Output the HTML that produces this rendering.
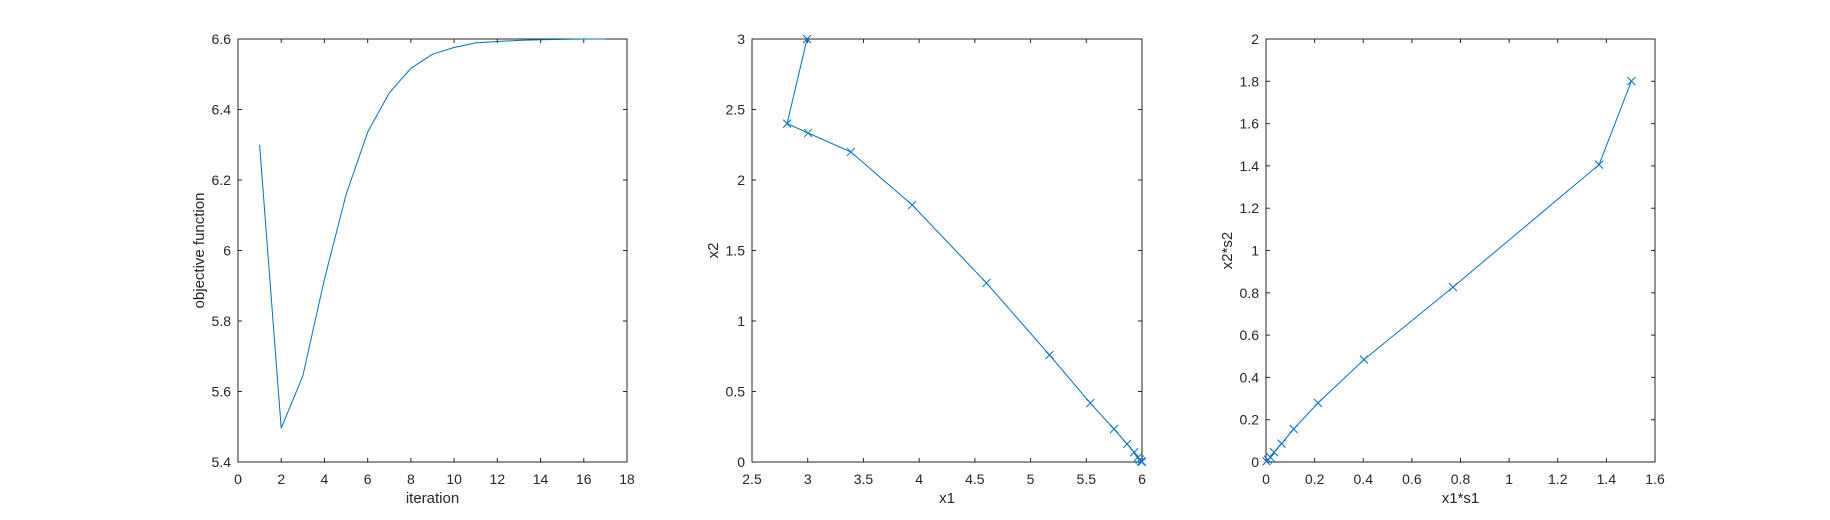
<!DOCTYPE html>
<html><head><meta charset="utf-8">
<style>
html,body{margin:0;padding:0;background:#fff;}
svg{display:block;font-family:"Liberation Sans",Arial,sans-serif;}
</style></head>
<body>
<svg id="fig" width="1830" height="520" viewBox="0 0 1830 520"></svg>
<script>
// ---- data ----
const iterations = [1,2,3,4,5,6,7,8,9,10,11,12,13,14,15,16,17];
const objValues = [6.30,5.496,5.644,5.918,6.159,6.336,6.447,6.517,6.557,6.576,6.589,6.593,6.596,6.598,6.599,6.6,6.6];
const x1Values = [2.994,2.815,3.003,3.387,3.938,4.604,5.17,5.536,5.749,5.866,5.929,5.964,5.979,5.991,6.0];
const x2Values = [3.0,2.40,2.333,2.199,1.823,1.270,0.759,0.418,0.234,0.128,0.069,0.033,0.017,0.005,0.002];
const x1s1Values = [1.503,1.370,0.769,0.403,0.214,0.114,0.064,0.033,0.018,0.008,0.002];
const x2s2Values = [1.801,1.406,0.827,0.484,0.279,0.156,0.087,0.046,0.022,0.011,0.003];
const xTicks1 = [0,2,4,6,8,10,12,14,16,18];
const yTicks1 = [5.4,5.6,5.8,6,6.2,6.4,6.6];
const yTickLabels1 = ["5.4","5.6","5.8","6","6.2","6.4","6.6"];
const xTicks2 = [2.5,3,3.5,4,4.5,5,5.5,6];
const yTicks2 = [0,0.5,1,1.5,2,2.5,3];
const xTicks3 = [0,0.2,0.4,0.6,0.8,1,1.2,1.4,1.6];
const yTicks3 = [0,0.2,0.4,0.6,0.8,1,1.2,1.4,1.6,1.8,2];

const NS = "http://www.w3.org/2000/svg";
const svg = document.getElementById("fig");
function mk(tag, attrs, parent){
  const e = document.createElementNS(NS, tag);
  for (const k in attrs) e.setAttribute(k, attrs[k]);
  (parent||svg).appendChild(e);
  return e;
}
const TOP=39, BOT=462, COL="#0072BD", TXT="#262626";

function axes(name, L, R, xmin, xmax, ymin, ymax, xt, yt, ytl, xlab, ylab, xs, ys, markers){
  const g = mk("g", {});
  
  
  const sx = v => L + (v-xmin)/(xmax-xmin)*(R-L);
  const sy = v => BOT - (v-ymin)/(ymax-ymin)*(BOT-TOP);
  xt.forEach(v=>{
    const x = sx(v);
    mk("line",{x1:x,y1:BOT,x2:x,y2:BOT-4,stroke:TXT,"stroke-width":1},g);
    mk("line",{x1:x,y1:TOP,x2:x,y2:TOP+4,stroke:TXT,"stroke-width":1},g);
    const t = mk("text",{x:x,y:BOT+22,"text-anchor":"middle","font-size":14,fill:TXT},g);
    t.textContent = String(v);
    
    
  });
  yt.forEach((v,i)=>{
    const y = sy(v);
    mk("line",{x1:L,y1:y,x2:L+4,y2:y,stroke:TXT,"stroke-width":1},g);
    mk("line",{x1:R,y1:y,x2:R-4,y2:y,stroke:TXT,"stroke-width":1},g);
    const t = mk("text",{x:L-7,y:y+5,"text-anchor":"end","font-size":14,fill:TXT},g);
    t.textContent = ytl ? ytl[i] : String(v);
    
    
  });
  const box = mk("rect",{x:L,y:TOP,width:R-L,height:BOT-TOP,fill:"none",stroke:TXT,"stroke-width":1},g);
  
  
  const pts = xs.map((v,i)=>sx(v).toFixed(1)+","+sy(ys[i]).toFixed(1)).join(" ");
  const pl = mk("polyline",{points:pts,fill:"none",stroke:COL,"stroke-width":1},g);
  
  
  if (markers){
    xs.forEach((v,i)=>{
      const x=sx(v), y=sy(ys[i]), d=4;
      const m = mk("path",{d:`M${x-d},${y-d}L${x+d},${y+d}M${x-d},${y+d}L${x+d},${y-d}`,stroke:COL,"stroke-width":1,fill:"none"},g);
      
      
    });
  }
  const xl = mk("text",{x:(L+R)/2,y:BOT+41,"text-anchor":"middle","font-size":15,fill:TXT},g);
  xl.textContent = xlab;
  
  
  const cy=(TOP+BOT)/2, cx=L-ylab.off;
  const yl = mk("text",{x:cx,y:cy,"text-anchor":"middle","font-size":15,fill:TXT,transform:`rotate(-90 ${cx} ${cy})`},g);
  yl.textContent = ylab.t;
  
  
}

axes("objective-plot",238,627,0,18,5.4,6.6,xTicks1,yTicks1,yTickLabels1,"iteration",{t:"objective function",off:34},iterations,objValues,false);
axes("x1-x2-plot",752,1142,2.5,6,0,3,xTicks2,yTicks2,null,"x1",{t:"x2",off:34},x1Values,x2Values,true);
axes("x1s1-x2s2-plot",1266,1655,0,1.6,0,2,xTicks3,yTicks3,null,"x1*s1",{t:"x2*s2",off:34},x1s1Values,x2s2Values,true);
</script>
</body></html>
